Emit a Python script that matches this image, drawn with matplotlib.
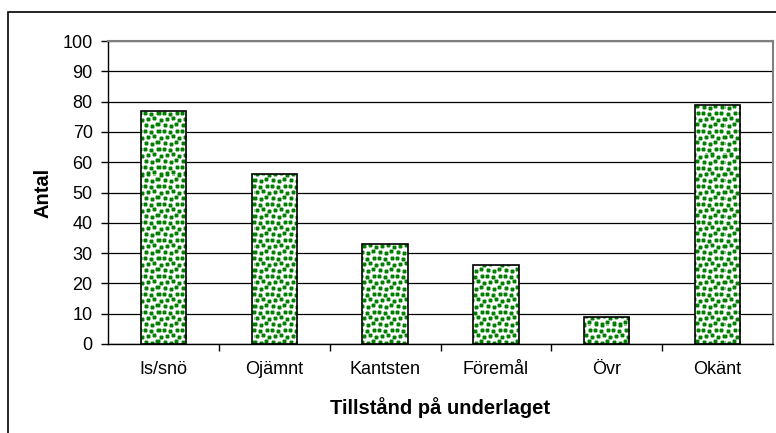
import matplotlib
matplotlib.use("Agg")
import numpy as np
from matplotlib import pyplot as plt
from matplotlib.patches import Rectangle

# Données
kategorier = ["Is/snö", "Ojämnt", "Kantsten", "Föremål", "Övr", "Okänt"]
antal = [77, 56, 33, 26, 9, 79]

plt.rcParams["font.family"] = ["Liberation Sans", "DejaVu Sans"]

LARGEUR, HAUTEUR = 776, 433
fig = plt.figure(figsize=(LARGEUR / 100, HAUTEUR / 100), dpi=100)
pos = [108 / LARGEUR, 1 - 344 / HAUTEUR, 665 / LARGEUR, 303 / HAUTEUR]
ax = fig.add_axes(pos)

# Motif de points verts (texture, pas des données)
N = 18
tuile = np.ones((N, N, 3))
vert = np.array([0.0, 0.5, 0.0])
bord = np.array([0.55, 0.78, 0.55])
points = [(0, 0), (1, 6), (0, 13), (6, 3), (5, 9), (7, 15), (12, 1), (13, 7), (11, 12)]
for (r, c) in points:
    for dr in range(-1, 4):
        for dc in range(-1, 4):
            rr, cc = (r + dr) % N, (c + dc) % N
            interieur = 0 <= dr < 3 and 0 <= dc < 3
            coin = dr in (-1, 3) and dc in (-1, 3)
            if interieur:
                tuile[rr, cc] = vert
            elif not coin and np.all(tuile[rr, cc] == 1):
                tuile[rr, cc] = bord
texture = np.tile(tuile, (303 // N + 1, 665 // N + 1, 1))[:303, :665]

x = np.arange(len(kategorier))
barres = ax.bar(x, antal, width=0.41, fill=False, edgecolor="black",
                linewidth=1.2, zorder=3)

ax.set_xlim(-0.5, len(kategorier) - 0.5)
ax.set_ylim(0, 100)

for b in barres:
    im = ax.imshow(texture, extent=[-0.5, len(kategorier) - 0.5, 0, 100],
                   aspect="auto", interpolation="nearest", zorder=2)
    im.set_clip_path(b)

ax.set_yticks(range(0, 101, 10))
ax.yaxis.grid(True, color="black", linewidth=0.9, zorder=0)
ax.set_axisbelow(True)

ax.set_xticks(x)
ax.set_xticklabels(kategorier, fontsize=13)
ax.tick_params(axis="x", length=0, pad=12)
ax.set_xticks([i + 0.5 for i in range(len(kategorier) - 1)], minor=True)
ax.tick_params(axis="x", which="minor", length=5, width=1, direction="out")
ax.tick_params(axis="y", length=5, width=1, labelsize=13, pad=6)

for side in ["top", "right"]:
    ax.spines[side].set_color("#808080")
    ax.spines[side].set_linewidth(1.5)
ax.spines["left"].set_linewidth(1)
ax.spines["bottom"].set_linewidth(1)

ax.set_ylabel("Antal", fontsize=14.5, fontweight="bold", labelpad=7)
ax.set_xlabel("Tillstånd på underlaget", fontsize=14.5, fontweight="bold", labelpad=14)

# cadre extérieur
fig.patches.append(Rectangle((8 / LARGEUR, -0.05), 1.0, 1 - 12 / HAUTEUR + 0.05,
                             transform=fig.transFigure, fill=False,
                             edgecolor="black", linewidth=1.2))

fig.savefig("out.png", dpi=100)
